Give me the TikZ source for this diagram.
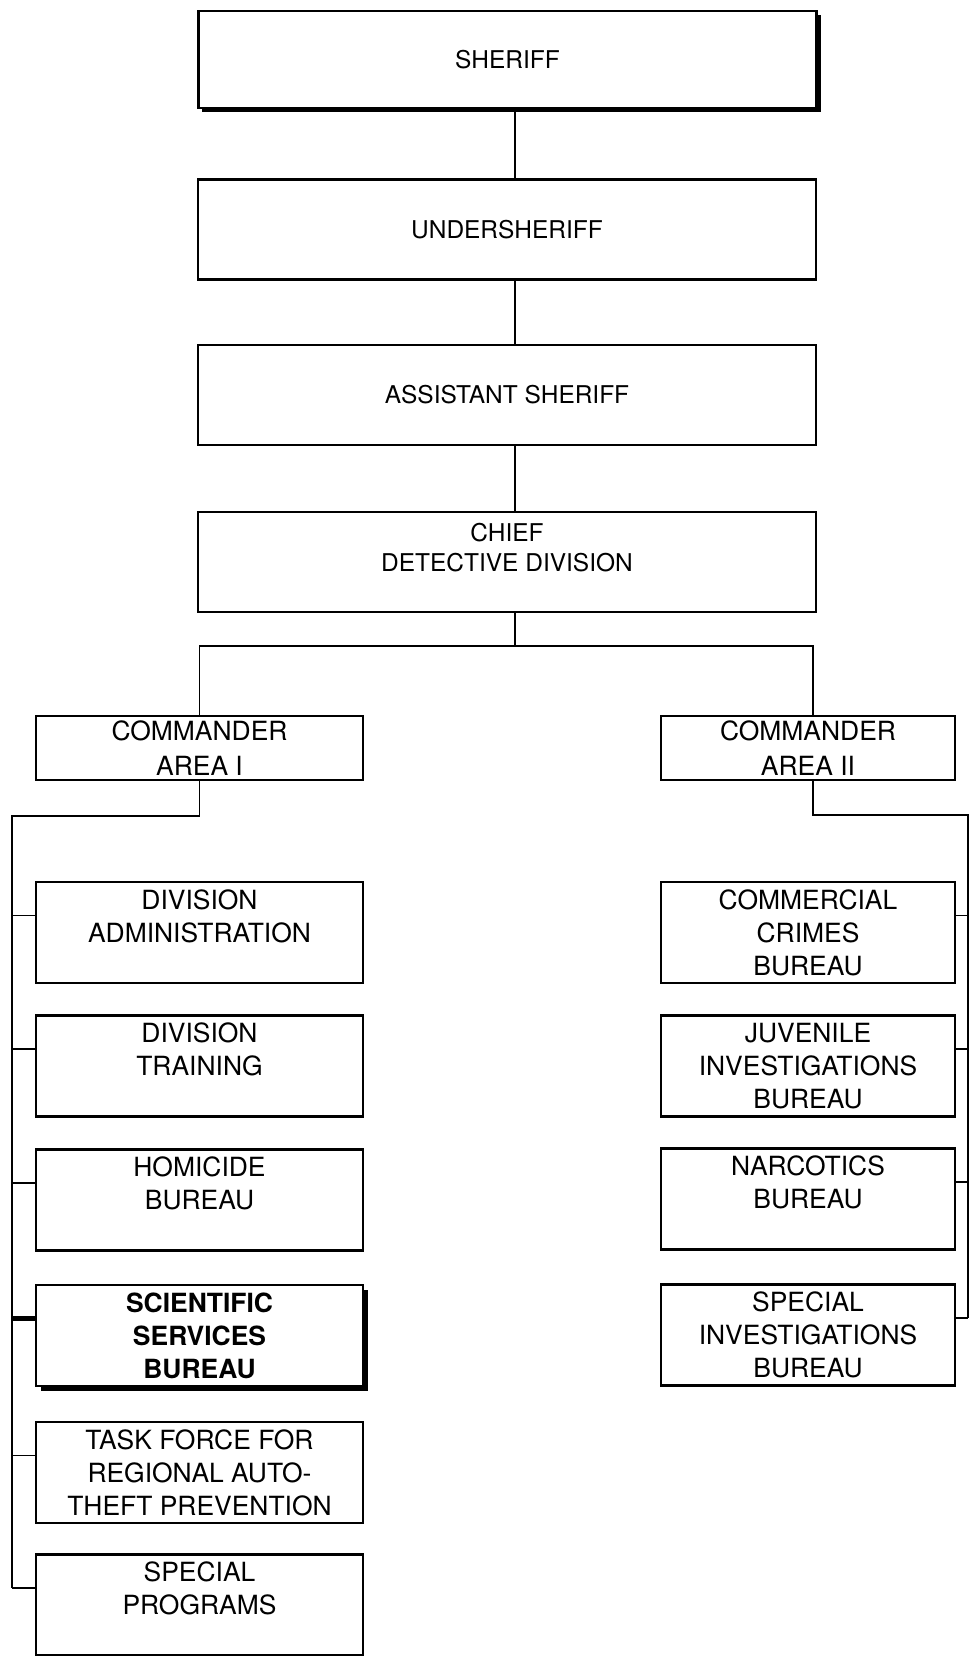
\documentclass[tikz,border=0pt]{standalone}
\usepackage{fontspec}
\setmainfont{TeX Gyre Heros}
\usetikzlibrary{shadows}

\begin{document}
\begin{tikzpicture}[x=0.025cm, y=-0.025cm,
  box/.style={draw, line width=1.6pt, fill=white, align=center, inner sep=2pt},
  topbox/.style={box, minimum width=15.45cm, minimum height=2.5cm, font=\fontsize{17.4}{21}\selectfont},
  leftbox/.style={box, minimum width=8.175cm, minimum height=2.525cm, font=\fontsize{18.8}{23.5}\selectfont},
  rightbox/.style={leftbox, minimum width=7.35cm},
  cmdbox/.style={minimum height=1.6cm, font=\fontsize{18.8}{24.8}\selectfont},
  heavy/.style={drop shadow={shadow xshift=0.1cm, shadow yshift=-0.1cm, fill=black, opacity=1}},
  link/.style={line width=1.4pt},
]
\useasboundingbox (0,0) rectangle (969,1656);

\node[topbox, heavy, minimum height=2.425cm] (sheriff) at (507.5,59.5) {SHERIFF};
\node[topbox] (under) at (507,229.5) {UNDERSHERIFF};
\node[topbox] (asst) at (507,395) {ASSISTANT SHERIFF};
\node[topbox] (chief) at (507,562) {CHIEF\\DETECTIVE DIVISION\\\mbox{}};

\node[leftbox, cmdbox] (cmdA) at (199.5,748) {COMMANDER\\AREA I};
\node[rightbox, cmdbox] (cmdB) at (808,748) {COMMANDER\\AREA II};

\node[leftbox] (admin) at (199.5,932.5) {DIVISION\\ADMINISTRATION\\\mbox{}};
\node[leftbox] (training) at (199.5,1066) {DIVISION\\TRAINING\\\mbox{}};
\node[leftbox] (homicide) at (199.5,1200) {HOMICIDE\\BUREAU\\\mbox{}};
\node[leftbox, font=\fontsize{18.8}{23.5}\selectfont\bfseries,
  drop shadow={shadow xshift=0.125cm, shadow yshift=-0.125cm, fill=black, opacity=1}]
  (scientific) at (199.5,1335.5) {SCIENTIFIC\\SERVICES\\BUREAU};
\node[leftbox] (task) at (199.5,1472.5) {TASK FORCE FOR\\REGIONAL AUTO-\\THEFT PREVENTION};
\node[leftbox] (special) at (199.5,1605) {SPECIAL\\PROGRAMS\\\mbox{}};

\node[rightbox] (commercial) at (808,932.5) {COMMERCIAL\\CRIMES\\BUREAU};
\node[rightbox] (juvenile) at (808,1066) {JUVENILE\\INVESTIGATIONS\\BUREAU};
\node[rightbox] (narcotics) at (808,1199) {NARCOTICS\\BUREAU\\\mbox{}};
\node[rightbox] (specinv) at (808,1335) {SPECIAL\\INVESTIGATIONS\\BUREAU};

\coordinate (spine) at (515,0);
\coordinate (fork) at (515,646);
\coordinate (dropB) at (813,646);
\coordinate (trunkA) at (12,816);
\coordinate (trunkB) at (968,815);

\draw[link] (sheriff.south -| spine) -- (under.north -| spine);
\draw[link] (under.south -| spine) -- (asst.north -| spine);
\draw[link] (asst.south -| spine) -- (chief.north -| spine);
\draw[link] (chief.south -| spine) -- (fork);
\draw[link] (cmdA.north) -- (cmdA.north |- fork) -- (dropB) -- (dropB |- cmdB.north);

\foreach \b in {admin,training,homicide,task,special}
  \draw[link] ([yshift=0.425cm]\b.west) coordinate (j\b) -- (j\b -| trunkA);
\draw[line width=3pt] ([yshift=0.425cm]scientific.west) coordinate (jscientific) -- (jscientific -| trunkA);
\draw[link] (cmdA.south) |- (trunkA) -- (jspecial -| trunkA);

\foreach \b in {commercial,juvenile,narcotics,specinv}
  \draw[link] ([yshift=0.425cm]\b.east) coordinate (j\b) -- (j\b -| trunkB);
\draw[link] (dropB |- cmdB.south) |- (trunkB) -- (jspecinv -| trunkB);

\end{tikzpicture}
\end{document}
